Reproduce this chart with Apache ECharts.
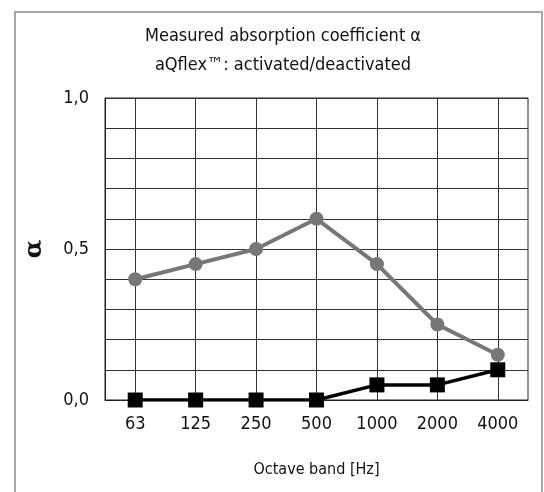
<!DOCTYPE html>
<html>
<head>
<meta charset="utf-8">
<script src="https://cdn.jsdelivr.net/npm/echarts@6/dist/echarts.min.js"></script>
<style>
  html, body { margin: 0; padding: 0; background: #fff; }
  #frame { position: absolute; left: 14px; top: 11px; width: 529px; height: 500px; border: 2px solid #a6a6a6; box-sizing: border-box; }
  #chart { position: absolute; left: 0; top: 0; width: 544px; height: 492px; }
</style>
</head>
<body>
<div id="frame"></div>
<div id="chart"></div>
<script>
"use strict";
var bands = ["63", "125", "250", "500", "1000", "2000", "4000"];//octave bands
var activated = [0.40, 0.45, 0.50, 0.60, 0.45, 0.25, 0.15];
var deactivated = [0, 0, 0, 0, 0.05, 0.05, 0.10];
var titleLines = ["Measured absorption coefficient \u03b1", "aQflex\u2122: activated/deactivated"];

var font = "'Liberation Sans Narrow', 'DejaVu Sans Condensed', 'Roboto', sans-serif";
var chart = echarts.init(document.getElementById("chart"));

chart.setOption({
  animation: false,
  title: {
    text: titleLines.join("\n"),
    left: 278,
    top: 17,
    textAlign: "center",
    textStyle: { fontFamily: font, fontSize: 18, fontWeight: "normal", color: "#111", lineHeight: 29 }
  },
  grid: { left: 105, right: 16, top: 98, bottom: 92, show: true, borderColor: "#222", borderWidth: 1 },
  xAxis: {
    type: "category",
    data: bands,
    name: "Octave band [Hz]",
    nameLocation: "middle",
    nameGap: 62,
    nameTextStyle: { fontFamily: font, fontSize: 16, color: "#111" },
    axisLine: { lineStyle: { color: "#222" } },
    axisTick: { show: false },
    axisLabel: { fontFamily: font, fontSize: 18, color: "#111", margin: 15 },
    splitLine: { show: true, alignWithLabel: true, lineStyle: { color: "#333", width: 1 } }
  },
  yAxis: {
    type: "value",
    min: 0,
    max: 1,
    interval: 0.1,
    name: "\u03b1",
    nameLocation: "middle",
    nameGap: 58,
    nameTextStyle: { fontFamily: "'DejaVu Serif', 'Liberation Serif', serif", fontSize: 24, fontWeight: "bold", color: "#111" },
    axisLine: { show: true, lineStyle: { color: "#222" } },
    axisTick: { show: false },
    axisLabel: {
      fontFamily: font, fontSize: 18, color: "#111", margin: 16,
      formatter: function (v) {
        return Math.round(v * 10) % 5 === 0 ? v.toFixed(1).replace(".", ",") : "";
      }
    },
    splitLine: { lineStyle: { color: "#333", width: 1 } }
  },
  series: [
    {
      type: "line",
      data: activated,
      symbol: "circle",
      symbolSize: 14,
      itemStyle: { color: "#777" },
      lineStyle: { color: "#777", width: 4 },
      z: 3
    },
    {
      type: "line",
      data: deactivated,
      symbol: "rect",
      symbolSize: 15,
      itemStyle: { color: "#000" },
      lineStyle: { color: "#000", width: 3.5 },
      z: 4
    }
  ]
});
</script>
</body>
</html>
